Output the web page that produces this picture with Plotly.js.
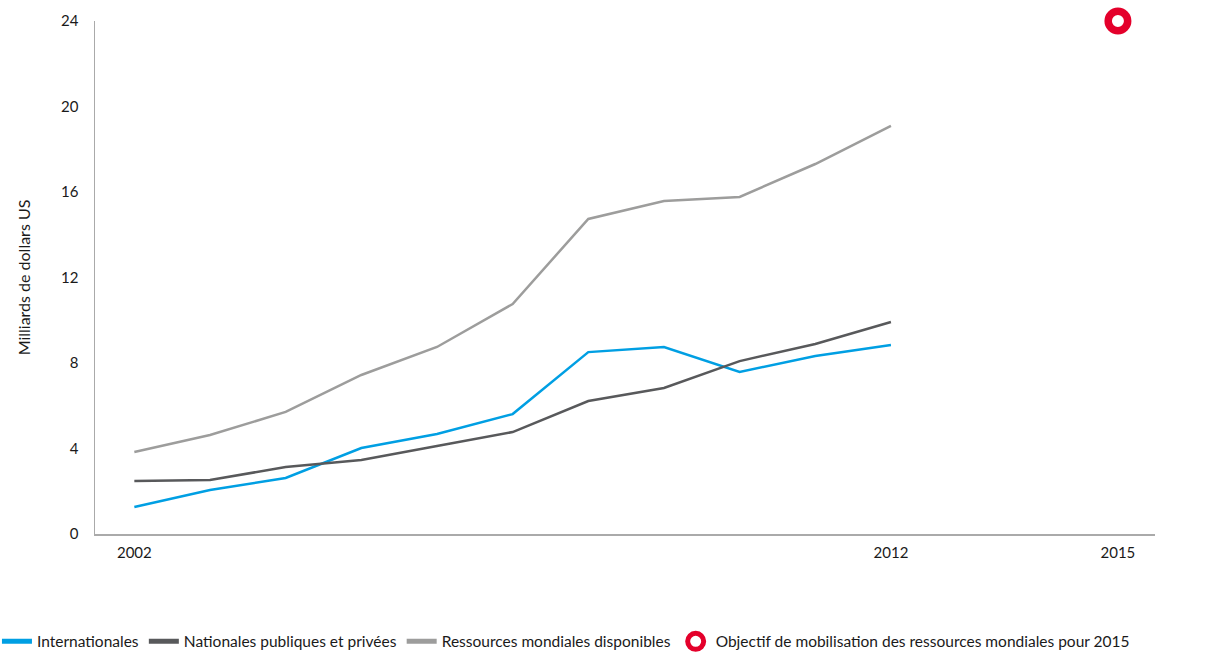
<!DOCTYPE html>
<html>
<head>
<meta charset="utf-8">
<script src="https://cdn.plot.ly/plotly-3.0.1.min.js"></script>
<style>html,body{margin:0;padding:0;background:#fff;}#chart{width:1230px;height:652px;}</style>
</head>
<body>
<div id="chart"></div>
<script>
const years = [2002, 2003, 2004, 2005, 2006, 2007, 2008, 2009, 2010, 2011, 2012];
const internationales = [1.26, 2.06, 2.62, 4.02, 4.68, 5.61, 8.51, 8.75, 7.58, 8.33, 8.84];
const nationales = [2.48, 2.53, 3.13, 3.46, 4.12, 4.77, 6.22, 6.83, 8.09, 8.89, 9.92];
const ressources = [3.84, 4.63, 5.71, 7.44, 8.75, 10.76, 14.74, 15.58, 15.77, 17.31, 19.09];
const objectifYear = [2015];
const objectifValue = [24];
const xTickVals = [2002, 2012, 2015];
const xTickText = ['2002', '2012', '2015'];
const yTickVals = [0, 4, 8, 12, 16, 20, 24];

const seriesNames = ['Internationales', 'Nationales publiques et privées', 'Ressources mondiales disponibles'];
const seriesColors = ['#009fe3', '#58595b', '#9d9d9c'];
const seriesValues = [internationales, nationales, ressources];

const font = 'Lato, "Open Sans", sans-serif';

const traces = [];
seriesValues.forEach((vals, i) => {
  traces.push({x: years, y: vals, name: seriesNames[i], mode: 'lines', showlegend: false,
    legendgroup: 'g' + i, line: {color: seriesColors[i], width: 2.5}});
});
// legend entries with thicker key bars
seriesValues.forEach((vals, i) => {
  traces.push({x: [null], y: [null], name: seriesNames[i], mode: 'lines', showlegend: true,
    legendgroup: 'g' + i, line: {color: seriesColors[i], width: 5}, hoverinfo: 'skip'});
});
traces.push({x: objectifYear, y: objectifValue,
  name: 'Objectif de mobilisation des ressources mondiales pour 2015',
  mode: 'markers', cliponaxis: false,
  marker: {size: 19.5, color: '#ffffff', line: {color: '#e4002b', width: 7.5}}});

const layout = {
  width: 1230, height: 652,
  margin: {l: 95, r: 75, t: 21, b: 118, autoexpand: false},
  paper_bgcolor: '#fff', plot_bgcolor: '#fff',
  font: {family: font, size: 15, color: '#1a1a1a'},
  showlegend: true,
  legend: {orientation: 'h', x: -0.0925, xanchor: 'left', y: -0.21, yanchor: 'middle',
           font: {family: font, size: 15.5, color: '#1a1a1a'}, itemgap: 17, traceorder: 'normal'},
  xaxis: {range: [2001.48, 2015.49], tickvals: xTickVals, ticktext: xTickText,
          showgrid: false, zeroline: false, showline: true, linecolor: '#aaaaaa', linewidth: 1.5,
          ticks: 'outside', ticklen: 4, tickcolor: 'rgba(0,0,0,0)', tickfont: {size: 15}},
  yaxis: {range: [0, 24], tickvals: yTickVals, showgrid: false, zeroline: false,
          showline: true, linecolor: '#aaaaaa', linewidth: 1.5,
          ticks: 'outside', ticklen: 12, tickcolor: 'rgba(0,0,0,0)', tickfont: {size: 15},
          title: {text: 'Milliards de dollars US', font: {size: 16}, standoff: 26}}
};

Plotly.newPlot('chart', traces, layout, {displayModeBar: false, staticPlot: true});
</script>
</body>
</html>
